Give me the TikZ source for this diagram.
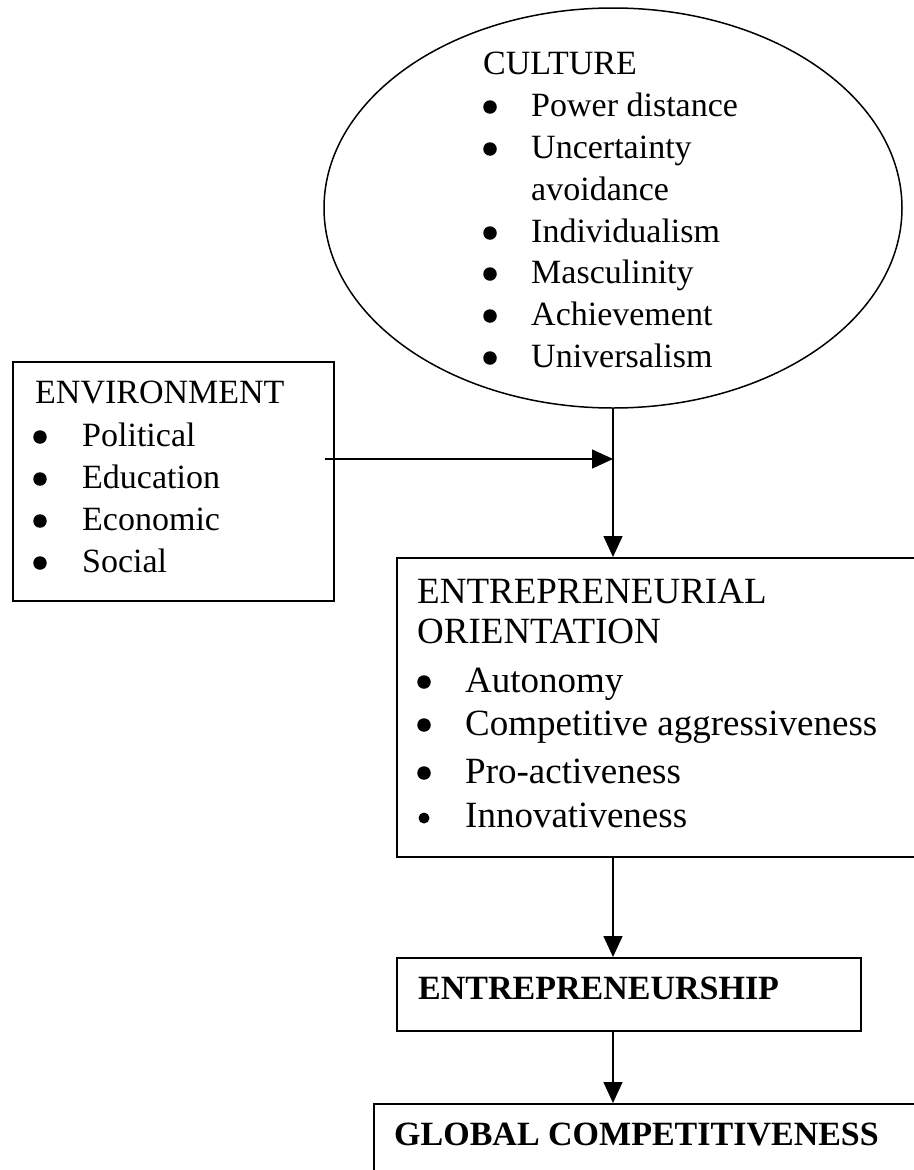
\documentclass[tikz,border=0pt]{standalone}
\usepackage{fontspec}
\setmainfont{Liberation Serif}
\usetikzlibrary{shapes.geometric,arrows.meta}
\begin{document}
\begin{tikzpicture}[x=1pt,y=-1pt,
  txt/.style={anchor=base west,inner sep=0pt,font=\fontsize{34}{40}\selectfont},
  txtb/.style={txt,font=\fontsize{34}{40}\selectfont\bfseries},
  txtl/.style={txt,font=\fontsize{37}{42}\selectfont},
  bul/.style={circle,fill=black,inner sep=0pt,minimum size=13.5pt},
  bulS/.style={circle,fill=black,inner sep=0pt,minimum size=11pt},
  boxa/.style={draw=black,line width=1.8pt,rectangle,anchor=north west,inner sep=0pt},
  arr/.style={line width=1.5pt,-{Triangle[length=21pt,width=19pt]}}]
\useasboundingbox (0,0) rectangle (913,1170);
\fill[white] (0,0) rectangle (913,1170);
% Culture ellipse
\node[draw=black,line width=1.5pt,ellipse,minimum width=578pt,minimum height=400pt,inner sep=0pt] (culture) at (613,208) {};
\node[txt] (ct) at (483,74) {CULTURE};
\node[bul] (cb1) at (490,107) {};
\node[txt] (c1) at (531,116) {Power distance};
\node[bul] (cb2) at (490,149) {};
\node[txt] (c2) at (531,158) {Uncertainty};
\node[txt] (c2b) at (531,200) {avoidance};
\node[bul] (cb3) at (490,233) {};
\node[txt] (c3) at (531,242) {Individualism};
\node[bul] (cb4) at (490,274) {};
\node[txt] (c4) at (531,283) {Masculinity};
\node[bul] (cb5) at (490,316) {};
\node[txt] (c5) at (531,325) {Achievement};
\node[bul] (cb6) at (490,358) {};
\node[txt] (c6) at (531,367) {Universalism};
% Environment box
\node[boxa,minimum width=321pt,minimum height=239pt] (env) at (12,361) {};
\node[txt] (et) at (35,403) {ENVIRONMENT};
\node[bul] (eb1) at (40,437) {};
\node[txt] (e1) at (82,446) {Political};
\node[bul] (eb2) at (40,479) {};
\node[txt] (e2) at (82,488) {Education};
\node[bul] (eb3) at (40,521) {};
\node[txt] (e3) at (82,530) {Economic};
\node[bul] (eb4) at (40,563) {};
\node[txt] (e4) at (82,572) {Social};
% Entrepreneurial orientation box
\node[boxa,minimum width=540pt,minimum height=299pt] (er) at (396,557) {};
\node[txtl] (rt1) at (417,603) {ENTREPRENEURIAL};
\node[txtl] (rt2) at (417,643) {ORIENTATION};
\node[bul] (rb1) at (424,682) {};
\node[txtl] (r1) at (465,692) {Autonomy};
\node[bul] (rb2) at (424,725) {};
\node[txtl] (r2) at (465,735) {Competitive aggressiveness};
\node[bul] (rb3) at (424,773) {};
\node[txtl] (r3) at (465,783) {Pro-activeness};
\node[bulS] (rb4) at (424,818) {};
\node[txtl] (r4) at (465,827) {Innovativeness};
% Entrepreneurship box
\node[boxa,minimum width=464pt,minimum height=73pt] (ent) at (396,957) {};
\node[txtb] (entt) at (418,999) {ENTREPRENEURSHIP};
% Global competitiveness box
\node[boxa,minimum width=600pt,minimum height=120pt] (gc) at (373,1103) {};
\node[txtb] (gct) at (394,1145) {GLOBAL COMPETITIVENESS};
% Connectors
\coordinate (hs) at (325,459);
\coordinate (j) at (613,459);
\draw[line width=1.5pt] (culture.south) -- (j);
\draw[arr] (hs) -- (j);
\draw[arr] (j) -- (j |- er.north);
\draw[arr] (er.south -| culture.south) -- (ent.north -| culture.south);
\draw[arr] (ent.south -| culture.south) -- (gc.north -| culture.south);
\end{tikzpicture}
\end{document}
